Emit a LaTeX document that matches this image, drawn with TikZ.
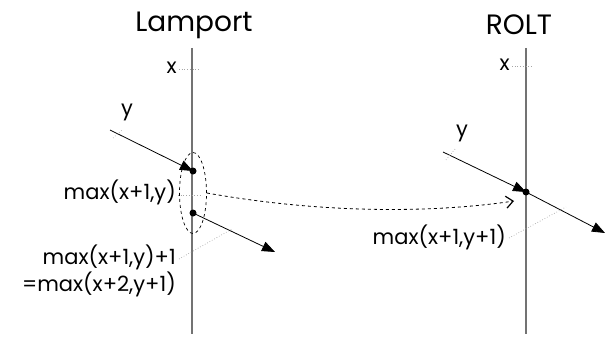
\documentclass[tikz,border=0pt]{standalone}
\usepackage{fontspec}
\setmainfont{Poppins}
\usetikzlibrary{arrows.meta,shapes.geometric}
\begin{document}
\begin{tikzpicture}[x=1pt,y=-1pt,
  timeline/.style={draw=black!55,line width=1.1pt},
  msg/.style={draw=black,line width=0.8pt,-{Triangle[length=13pt,width=10pt]}},
  ev/.style={circle,fill=black,inner sep=0pt,minimum size=7pt},
  lbl/.style={inner sep=0pt,font=\fontsize{21}{24}\selectfont},
  ttl/.style={inner sep=0pt,font=\fontsize{28}{30}\selectfont},
  lead/.style={draw=black!35,dotted,line width=0.7pt},
  dep/.style={draw=black,dashed,line width=0.8pt}]
\useasboundingbox (0,0) rectangle (605,337);
% titles
\node[ttl] (tL) at (194,25) {Lamport};
\node[ttl] (tR) at (519,25) {ROLT};
% timelines
\coordinate (Ltop) at (192,48);
\coordinate (Lbot) at (192,334);
\coordinate (Rtop) at (526,48);
\coordinate (Rbot) at (526,334);
\draw[timeline] (Ltop) -- (Lbot);
\draw[timeline] (Rtop) -- (Rbot);
% x labels
\node[lbl,anchor=east] (xL) at (177,68) {x};
\coordinate (xLe) at (200,69);
\draw[lead] (xL.east) ++(2,1) -- (xLe);
\node[lbl,anchor=east] (xR) at (510,65) {x};
\coordinate (xRe) at (533,66);
\draw[lead] (xR.east) ++(2,1) -- (xRe);
% Lamport events
\node[ev] (e1) at (193,171) {};
\node[ev] (e2) at (193,213) {};
\coordinate (yLs) at (110,130);
\coordinate (oL) at (275,252);
\draw[msg] (yLs) -- (e1.center);
\draw[msg] (e2.center) -- (oL);
\node[ellipse,draw,dashed,line width=0.7pt,minimum width=27pt,minimum height=81pt,inner sep=0pt] (ell) at (193,193) {};
\node[lbl] (yL) at (127,112) {y};
\coordinate (yLa) at (113,138);
\coordinate (yLb) at (123,129);
\draw[lead] (yLa) -- (yLb);
\node[lbl,anchor=east] (mL) at (176,192) {max(x+1,y)};
\coordinate (mLe) at (200,195);
\draw[lead] (mL.east) ++(2,3) -- (mLe);
\node[lbl,anchor=east] (m2a) at (176,257) {max(x+1,y)+1};
\node[lbl,anchor=east] (m2b) at (176,284) {=max(x+2,y+1)};
\coordinate (m2e) at (232,229);
\draw[lead] (m2a.east) ++(3,2) -- (m2e);
% ROLT events
\node[ev] (r1) at (526,192) {};
\coordinate (yRs) at (443,152);
\coordinate (oR) at (605,233);
\draw[msg] (yRs) -- (r1.center);
\draw[msg] (r1.center) -- (oR);
\node[lbl] (yR) at (462,133) {y};
\coordinate (yRa) at (446,160);
\coordinate (yRb) at (455,149);
\draw[lead] (yRa) -- (yRb);
\node[lbl,anchor=east] (mR) at (506,237) {max(x+1,y+1)};
\coordinate (mRe) at (566,207);
\draw[lead] (mR.east) ++(3,1) -- (mRe);
% dependency arrow
\coordinate (dEnd) at (514,201);
\draw[dep,-{Straight Barb[length=7pt,width=12pt,line width=1.2pt]}] (ell.east) .. controls (330,215) and (440,212) .. (dEnd);
\end{tikzpicture}
\end{document}
